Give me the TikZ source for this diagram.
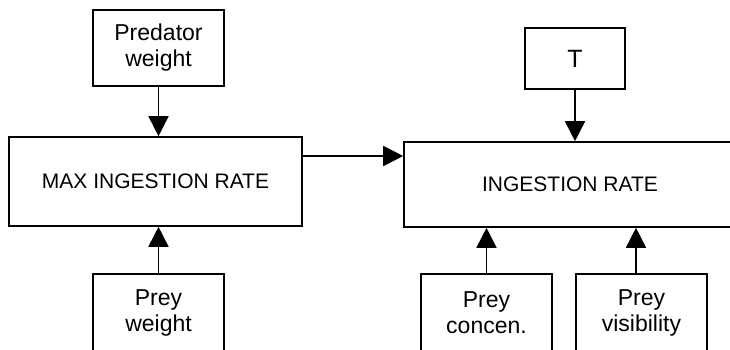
\documentclass[tikz,border=0pt]{standalone}
\usepackage{fontspec}
\setmainfont{Liberation Sans}
\usetikzlibrary{calc}
\usetikzlibrary{arrows.meta}

\tikzset{
	box/.style = {draw, line width = 0.8pt, inner sep = 0pt, align = center},
	smallbox/.style = {box, minimum width = 65.5pt, minimum height = 39pt, font = \fontsize{11.5}{13}\selectfont},
	bigbox/.style = {box, font = \fontsize{10.5}{12.5}\selectfont},
	feed/.style = {line width = 0.8pt, -{Triangle[length = 10pt, width = 10pt]}},
}

\begin{document}
\begin{tikzpicture}[x = 0.5pt, y = -0.5pt]
				\useasboundingbox (0, 0) rectangle (730, 349);
				\clip (0, 0) rectangle (730, 349);

				\node[smallbox, minimum height = 38pt](pred) at (158.5, 48) {Predator\\weight};
				\node[bigbox, minimum width = 146.5pt, minimum height = 44.5pt](maxrate) at (155.5, 181.5) {MAX INGESTION RATE};
				\node[smallbox](preyw) at (158.5, 313) {Prey\\weight};

				\node[box, minimum width = 50pt, minimum height = 30.5pt, font = \fontsize{12.5}{14}\selectfont](temp) at (575, 58.5) {T};
				\node[bigbox, minimum width = 166pt, minimum height = 42.5pt](ingest) at (570, 184.5) {INGESTION RATE};
				\node[smallbox](concen) at (486.5, 313) {Prey\\concen.};
				\node[smallbox](visib) at (641.5, 313) {Prey\\visibility};

				\coordinate[](hook) at ($(maxrate.east)+(0, -25.5)$);
				\coordinate[](vtop) at ($(visib.north)+(-5.5, 0)$);

				\draw[feed] (pred.south)--(pred.south |- maxrate.north);
				\draw[feed] (preyw.north)--(preyw.north |- maxrate.south);
				\draw[feed] (hook)--(hook -| ingest.west);
				\draw[feed] (temp.south)--(temp.south |- ingest.north);
				\draw[feed] (concen.north)--(concen.north |- ingest.south);
				\draw[feed] (vtop)--(vtop |- ingest.south);
			\end{tikzpicture}
\end{document}
